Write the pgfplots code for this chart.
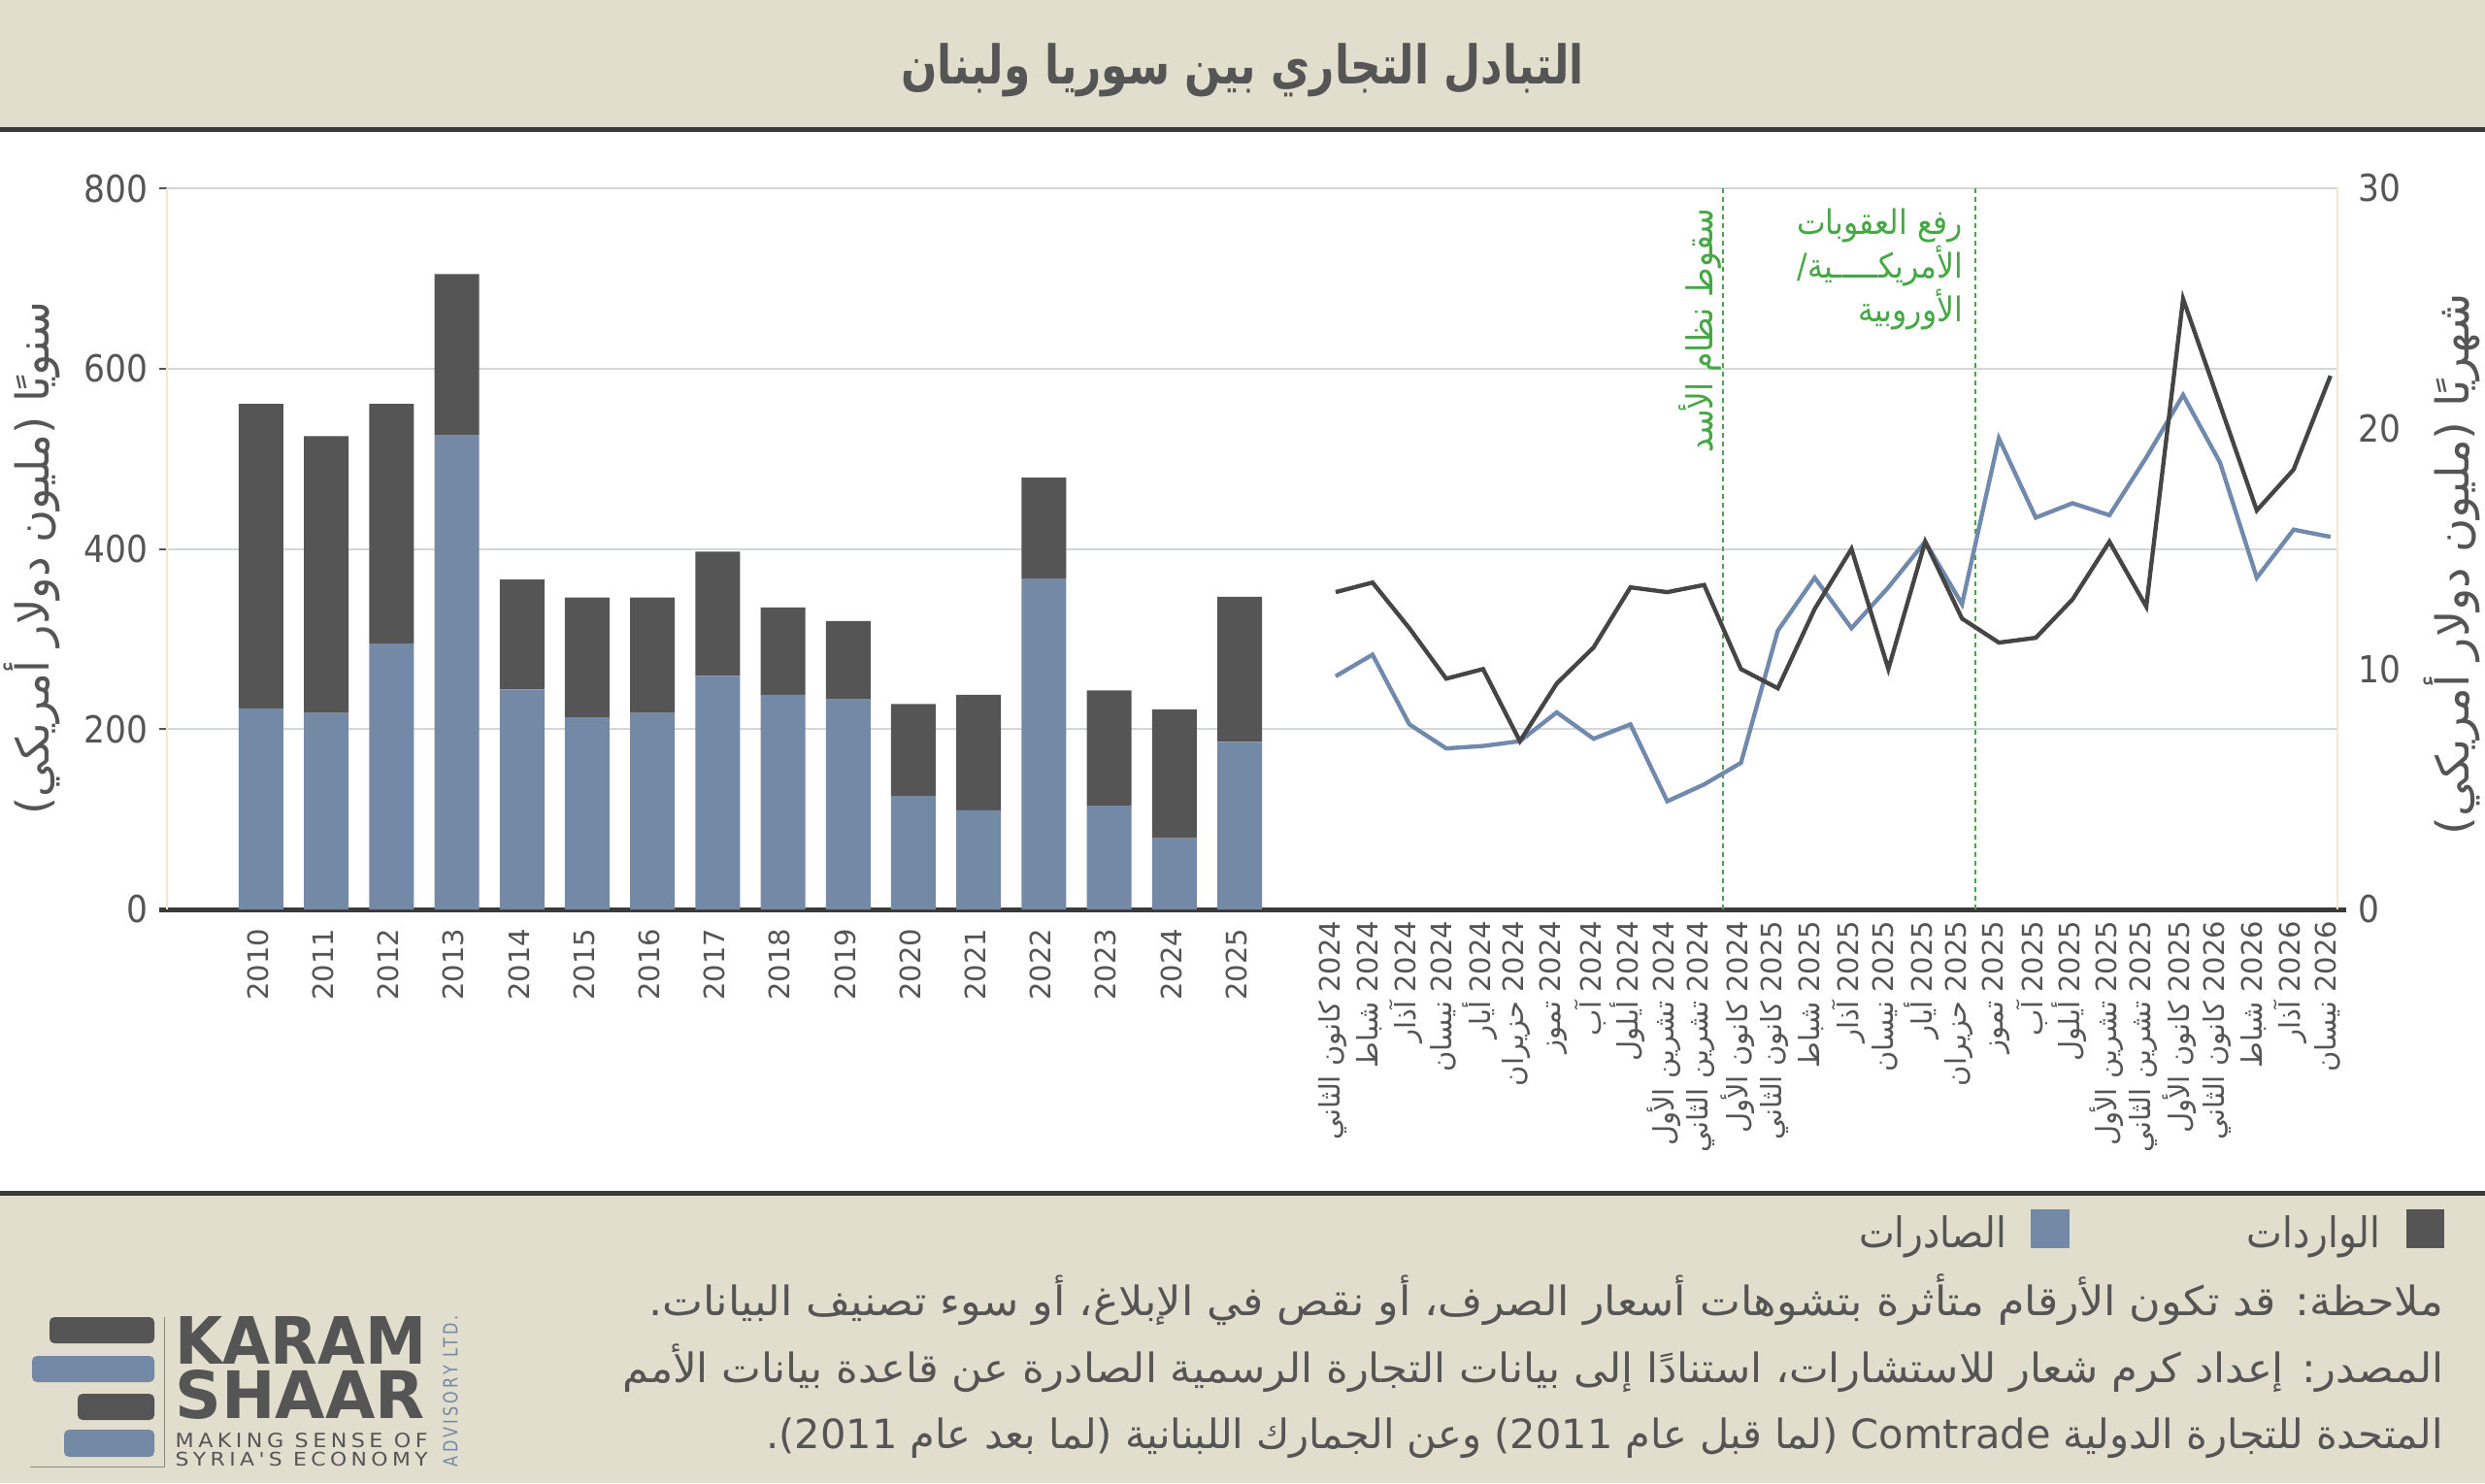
\documentclass[border=0pt]{standalone}
\usepackage{fontspec}
\usepackage{graphicx}
\usepackage{pgfplots}
\usepackage{pgfplotstable}
\pgfplotsset{compat=1.18}
\TeXXeTstate=1
\setmainfont{DejaVu Sans}
\newfontfamily\arabicfont[Script=Arabic]{DejaVu Sans}
\newfontfamily\arabiccond[Script=Arabic]{DejaVu Sans Condensed}
\newfontfamily\condfont{DejaVu Sans Condensed}
\newfontfamily\spacedfont[LetterSpace=20]{DejaVu Sans}
\newcommand\AR[1]{\beginR #1\endR}

\definecolor{beige}{HTML}{E2DECE}
\definecolor{darkline}{HTML}{3A3A3A}
\definecolor{bardark}{HTML}{555555}
\definecolor{barblue}{HTML}{7389A6}
\definecolor{lineblack}{HTML}{454545}
\definecolor{lineblue}{HTML}{7089AD}
\definecolor{anngreen}{HTML}{45A845}
\definecolor{gridc}{HTML}{D3D7DB}
\definecolor{txt}{HTML}{555555}
\definecolor{faint}{HTML}{F3E7CF}

\pgfplotstableread{
x exp imp
0 223 338
1 218 307
2 295 266
3 526 179
4 244 122
5 213 133
6 218 128
7 259 138
8 238 97
9 233 87
10 126 102
11 110 128
12 367 112
13 115 128
14 79 143
15 186 161
}\annual

\pgfplotstableread{
x imp exp
0 13.2 9.7
1 13.6 10.6
2 11.7 7.7
3 9.6 6.7
4 10.0 6.8
5 7.0 7.0
6 9.4 8.2
7 10.9 7.1
8 13.4 7.7
9 13.2 4.5
10 13.5 5.2
11 10.0 6.1
12 9.2 11.6
13 12.5 13.8
14 15.0 11.7
15 10.0 13.4
16 15.3 15.3
17 12.1 12.7
18 11.1 19.6
19 11.3 16.3
20 12.9 16.9
21 15.3 16.4
22 12.6 18.8
23 25.4 21.4
24 21.0 18.6
25 16.6 13.8
26 18.3 15.8
27 22.2 15.5
}\monthly

\pgfplotsset{
  common/.style={
    at={(51.6pt,-281.1pt)}, anchor=south west, scale only axis,
    width=670.8pt, height=222.9pt,
    axis line style={-},
    ymin=0,
    /pgf/number format/assume math mode=true,
    tick label style={text=txt},
    xticklabel style={rotate=90, anchor=east, yshift=1pt, font=\arabicfont\fontsize{8.7}{10}\selectfont},
    yticklabel style={font=\condfont\fontsize{11.5}{13}\selectfont},
    xtick style={draw=none},
  }
}

\begin{document}
\begin{tikzpicture}
\path[use as bounding box] (0,0) rectangle (768pt,-458.4pt);
\fill[white] (0,0) rectangle (768pt,-458.4pt);
\begin{scope}[x=0.3pt,y=-0.3pt]
\fill[beige] (0,0) rectangle (2560,133);
\fill[darkline] (0,131) rectangle (2560,136);
\fill[beige] (0,1229) rectangle (2560,1528);
\fill[darkline] (0,1227) rectangle (2560,1232);
\end{scope}

% annual bars (left axis)
\begin{axis}[common,
  xmin=-1.443, xmax=31.83, ymax=800,
  ybar stacked, bar width=13.8pt,
  axis x line*=bottom, axis y line*=left,
  x axis line style={draw=darkline, line width=1.5pt, shorten <=-2.4pt, shorten >=-2.7pt},
  y axis line style={draw=faint, line width=0.5pt},
  ytick={0,200,400,600,800},
  ymajorgrids, grid style={gridc, line width=0.6pt},
  ytick style={draw=txt, line width=0.6pt}, tick align=outside, major tick length=2.4pt,
  xtick={0,...,15},
  xticklabels={2010,2011,2012,2013,2014,2015,2016,2017,2018,2019,2020,2021,2022,2023,2024,2025},
]
\addplot[fill=barblue, draw=none] table[x=x,y=exp]{\annual};
\addplot[fill=bardark, draw=none] table[x=x,y=imp]{\annual};
\end{axis}

% monthly lines (right axis)
\begin{axis}[common,
  xmin=-31.72, xmax=27.19, ymax=30,
  axis x line*=bottom, axis y line*=right,
  x axis line style={draw=none},
  y axis line style={draw=faint, line width=0.5pt},
  ytick={0,10,20,30}, ytick style={draw=none},
  yticklabel style={anchor=west, xshift=3pt},
  xtick={0,...,27},
  xticklabels={
    {\AR{2024 كانون الثاني}},{\AR{2024 شباط}},{\AR{2024 آذار}},{\AR{2024 نيسان}},
    {\AR{2024 أيار}},{\AR{2024 حزيران}},{\AR{2024 تموز}},{\AR{2024 آب}},
    {\AR{2024 أيلول}},{\AR{2024 تشرين الأول}},{\AR{2024 تشرين الثاني}},{\AR{2024 كانون الأول}},
    {\AR{2025 كانون الثاني}},{\AR{2025 شباط}},{\AR{2025 آذار}},{\AR{2025 نيسان}},
    {\AR{2025 أيار}},{\AR{2025 حزيران}},{\AR{2025 تموز}},{\AR{2025 آب}},
    {\AR{2025 أيلول}},{\AR{2025 تشرين الأول}},{\AR{2025 تشرين الثاني}},{\AR{2025 كانون الأول}},
    {\AR{2026 كانون الثاني}},{\AR{2026 شباط}},{\AR{2026 آذار}},{\AR{2026 نيسان}}},
]
\draw[anngreen, line width=0.5pt, dash pattern=on 1.5pt off 1.2pt] (axis cs:10.51,0) -- (axis cs:10.51,30);
\draw[anngreen, line width=0.5pt, dash pattern=on 1.5pt off 1.2pt] (axis cs:17.36,0) -- (axis cs:17.36,30);
\addplot[lineblue, line width=1.3pt, mark=none] table[x=x,y=exp]{\monthly};
\addplot[lineblack, line width=1.3pt, mark=none] table[x=x,y=imp]{\monthly};
\node[rotate=90, anchor=east, text=anngreen, inner sep=0pt, font=\arabiccond\fontsize{11}{12}\selectfont] at (axis cs:9.9,29.2) {\AR{سقوط نظام الأسد}};
\node[anchor=north east, align=right, text=anngreen, inner sep=0pt, font=\arabiccond\fontsize{10.5}{11}\selectfont] at (axis cs:17.04,29.2) {\AR{رفع العقوبات}\\\AR{الأمريكـــــية/}\\\AR{الأوروبية}};
\end{axis}

\begin{scope}[x=0.3pt,y=-0.3pt]
% title
\node[anchor=base, inner sep=0pt, text=txt, font=\arabiccond\bfseries\fontsize{16.5}{19}\selectfont] at (1280,86) {\resizebox{211pt}{\height}{\AR{التبادل التجاري بين سوريا ولبنان}}};
% y labels
\node[rotate=90, inner sep=0pt, text=txt, font=\arabiccond\fontsize{14}{16}\selectfont] at (33,575) {\resizebox{158.7pt}{\height}{\AR{سنويًا (مليون دولار أمريكي)}}};
\node[rotate=90, inner sep=0pt, text=txt, font=\arabiccond\fontsize{14}{16}\selectfont] at (2526,581) {\resizebox{167.4pt}{\height}{\AR{شهريًا (مليون دولار أمريكي)}}};
% legend
\fill[bardark] (2479,1246) rectangle (2518,1286);
\node[anchor=base east, inner sep=0pt, text=txt, font=\arabiccond\fontsize{13}{15}\selectfont] at (2453,1285) {\AR{الواردات}};
\fill[barblue] (2092,1246) rectangle (2132,1286);
\node[anchor=base east, inner sep=0pt, text=txt, font=\arabiccond\fontsize{13}{15}\selectfont] at (2068,1285) {\AR{الصادرات}};
% notes
\node[anchor=base east, inner sep=0pt, text=txt, font=\arabiccond\fontsize{12.5}{14}\selectfont] at (2518,1355) {\resizebox{554.7pt}{\height}{\AR{ملاحظة: قد تكون الأرقام متأثرة بتشوهات أسعار الصرف، أو نقص في الإبلاغ، أو سوء تصنيف البيانات.}}};
\node[anchor=base east, inner sep=0pt, text=txt, font=\arabiccond\fontsize{12.5}{14}\selectfont] at (2518,1424) {\resizebox{562.8pt}{\height}{\AR{المصدر: إعداد كرم شعار للاستشارات، استنادًا إلى بيانات التجارة الرسمية الصادرة عن قاعدة بيانات الأمم}}};
\node[anchor=base east, inner sep=0pt, text=txt, font=\arabiccond\fontsize{12.5}{14}\selectfont] at (2518,1492) {\resizebox{518.4pt}{\height}{\AR{المتحدة للتجارة الدولية Comtrade (لما قبل عام 2011) وعن الجمارك اللبنانية (لما بعد عام 2011).}}};
% logo
\fill[bardark, rounded corners=1.5pt] (51,1357) rectangle (159,1384);
\fill[barblue, rounded corners=1.5pt] (33,1397) rectangle (159,1424);
\fill[bardark, rounded corners=1.5pt] (80,1436) rectangle (159,1463);
\fill[barblue, rounded corners=1.5pt] (66,1473) rectangle (159,1501);
\draw[txt!70, line width=0.3pt] (31,1511) -- (169,1511) -- (169,1357);
\node[anchor=south west, inner sep=0pt, text=txt] at (180,1406) {\resizebox{77.7pt}{14.7pt}{\condfont\bfseries KARAM}};
\node[anchor=south west, inner sep=0pt, text=txt] at (180,1463) {\resizebox{77.1pt}{15pt}{\condfont\bfseries SHAAR}};
\node[anchor=south west, inner sep=0pt, text=txt] at (180,1492) {\resizebox{78pt}{4.5pt}{\spacedfont MAKING SENSE OF}};
\node[anchor=south west, inner sep=0pt, text=txt] at (180,1511) {\resizebox{78pt}{4.3pt}{\spacedfont SYRIA'S ECONOMY}};
\node[rotate=90, inner sep=0pt, text=barblue] at (464,1433) {\resizebox{46.8pt}{4.5pt}{\spacedfont ADVISORY LTD.}};
\end{scope}
\end{tikzpicture}
\end{document}
